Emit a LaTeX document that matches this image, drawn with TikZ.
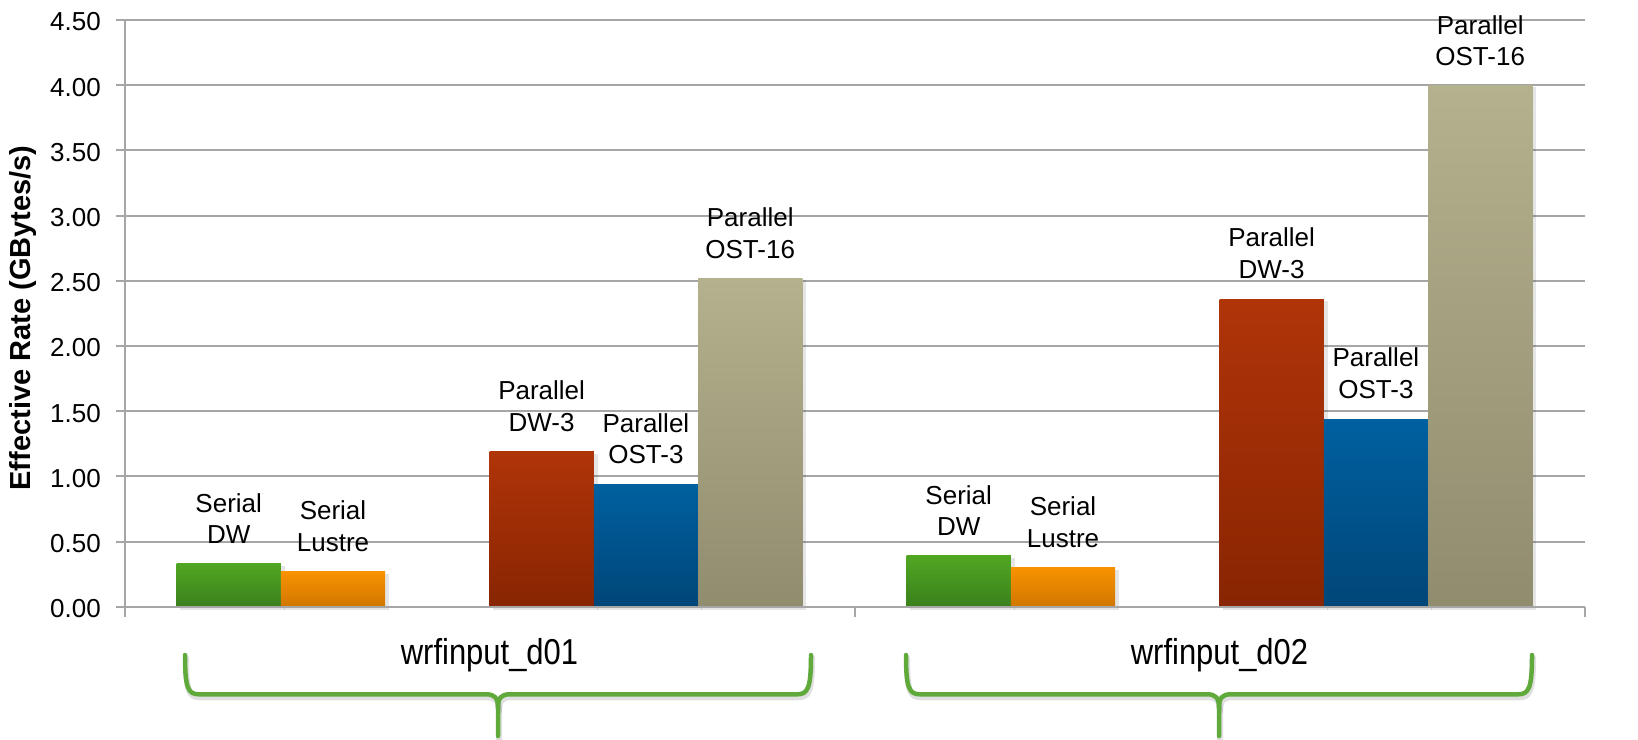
\documentclass[tikz,border=0pt]{standalone}
\usepackage{fontspec}
\setmainfont{Liberation Sans}
\newfontfamily\catfont[FakeStretch=0.86]{Liberation Sans}
\definecolor{gridc}{RGB}{166,166,166}
\definecolor{sdwT}{RGB}{80,167,34}
\definecolor{sdwB}{RGB}{58,128,28}
\definecolor{slT}{RGB}{248,146,0}
\definecolor{slB}{RGB}{208,118,0}
\definecolor{pdwT}{RGB}{176,52,8}
\definecolor{pdwB}{RGB}{136,37,2}
\definecolor{postT}{RGB}{0,96,160}
\definecolor{postB}{RGB}{0,70,120}
\definecolor{pbigT}{RGB}{180,177,142}
\definecolor{pbigB}{RGB}{144,140,110}
\definecolor{bracec}{RGB}{96,170,60}
\tikzset{
  gridline/.style={draw=gridc, line width=2pt},
  axisline/.style={draw=gridc, line width=2pt},
  sdw/.style={top color=sdwT, bottom color=sdwB},
  sl/.style={top color=slT, bottom color=slB},
  pdw/.style={top color=pdwT, bottom color=pdwB},
  post/.style={top color=postT, bottom color=postB},
  pbig/.style={top color=pbigT, bottom color=pbigB},
  barshade/.style={fill=black, opacity=0.10},
  barlabel/.style={font=\fontsize{26}{31.5}\selectfont, align=center, anchor=south, inner sep=0pt},
  ticklabel/.style={font=\fontsize{26}{26}\selectfont, anchor=east, inner sep=0pt},
  catlabel/.style={font=\catfont\fontsize{36}{36}\selectfont, anchor=base, inner sep=0pt},
  bracepath/.style={draw=bracec, line width=4.5pt, line cap=round, line join=round},
  braceshadow/.style={draw=black, opacity=0.12, line width=6pt, line cap=round, line join=round}
}
\newcommand\mybar[4]{% left, top, width, style
  \fill[barshade] (#1+3,#2+2) rectangle (#1+#3+4,606.7+3);
  \shade[#4] (#1,#2) rectangle (#1+#3,606.7);
}
\newcommand\mybrace[3]{% left x, right x, style
  \draw[#3] (#1,655) .. controls (#1,688) and (#1+3,694.3) .. (#1+14,694.3)
     -- ({(#1+#2)/2-12},694.3) .. controls ({(#1+#2)/2-3},694.3) and ({(#1+#2)/2},698) .. ({(#1+#2)/2},708)
     -- ({(#1+#2)/2},736);
  \draw[#3] (#2,655) .. controls (#2,688) and (#2-3,694.3) .. (#2-14,694.3)
     -- ({(#1+#2)/2+12},694.3) .. controls ({(#1+#2)/2+3},694.3) and ({(#1+#2)/2},698) .. ({(#1+#2)/2},708);
}
\begin{document}
\begin{tikzpicture}[x=1pt,y=-1pt]
\useasboundingbox (0,0) rectangle (1638,739);
\fill[white] (0,0) rectangle (1638,739);
% gridlines and tick labels
\foreach \v/\t [count=\i from 0] in {0/0.00,0.5/0.50,1/1.00,1.5/1.50,2/2.00,2.5/2.50,3/3.00,3.5/3.50,4/4.00,4.5/4.50}{
  \pgfmathsetmacro\yy{606.7-130.38*\v}
  \draw[gridline] (116,\yy) -- (1584.7,\yy);
  \node[ticklabel] (t\i) at (101,\yy+2) {\t};
}
% bars group 1
\mybar{176.6}{563.7}{104.3}{sdw}
\mybar{280.9}{571.5}{104.3}{sl}
\mybar{489.5}{451.5}{104.3}{pdw}
\mybar{593.8}{484.1}{104.3}{post}
\mybar{698.1}{278.1}{104.3}{pbig}
% bars group 2
\mybar{906.6}{555.9}{104.3}{sdw}
\mybar{1010.9}{567.6}{104.3}{sl}
\mybar{1219.5}{299.0}{104.3}{pdw}
\mybar{1323.8}{419.0}{104.3}{post}
\mybar{1428.1}{85.2}{104.3}{pbig}
% axes
\draw[axisline] (124.5,20) -- (124.5,617);
\draw[axisline] (124.5,606.7) -- (1584.7,606.7);
\draw[axisline] (854.6,606.7) -- (854.6,617);
\draw[axisline] (1584.7,606.7) -- (1584.7,617);
% bar labels
\node[barlabel] (l1) at (228.7,543.7) {Serial\\DW};
\node[barlabel] (l2) at (333.0,551.5) {Serial\\Lustre};
\node[barlabel] (l3) at (541.6,431.5) {Parallel\\DW-3};
\node[barlabel] (l4) at (645.9,464.1) {Parallel\\OST-3};
\node[barlabel] (l5) at (750.2,258.6) {Parallel\\OST-16};
\node[barlabel] (l6) at (958.7,535.9) {Serial\\DW};
\node[barlabel] (l7) at (1063.0,547.6) {Serial\\Lustre};
\node[barlabel] (l8) at (1271.6,278.5) {Parallel\\DW-3};
\node[barlabel] (l9) at (1375.9,398.5) {Parallel\\OST-3};
\node[barlabel] (l10) at (1480.2,66.2) {Parallel\\OST-16};
% category labels
\node[catlabel] (c1) at (489.5,664) {wrfinput\_d01};
\node[catlabel] (c2) at (1219.5,664) {wrfinput\_d02};
% axis title
\node[rotate=90, font=\bfseries\fontsize{29}{29}\selectfont, inner sep=0pt] (ytitle) at (23,318) {Effective Rate (GBytes/s)};
% braces
\begin{scope}[shift={(1,3)}]
\mybrace{185}{811}{braceshadow}
\mybrace{906}{1532}{braceshadow}
\end{scope}
\mybrace{185}{811}{bracepath}
\mybrace{906}{1532}{bracepath}
\end{tikzpicture}
\end{document}
